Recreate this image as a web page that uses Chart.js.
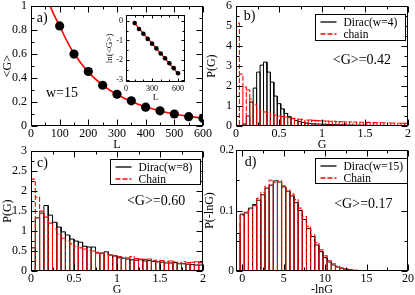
<!DOCTYPE html>
<html>
<head>
<meta charset="utf-8">
<script src="https://cdn.jsdelivr.net/npm/chart.js@4.4.1/dist/chart.umd.min.js"></script>
<style>
  html, body { margin: 0; padding: 0; background: #fff; }
  #fig { position: relative; width: 415px; height: 295px; overflow: hidden; }
  #fig canvas { position: absolute; }
</style>
</head>
<body>
<div id="fig">
  <canvas id="pa" width="213" height="157" style="left:0;top:-5px"></canvas>
  <canvas id="pb" width="214" height="157" style="left:204px;top:-5px"></canvas>
  <canvas id="pc" width="213" height="157" style="left:0;top:140px"></canvas>
  <canvas id="pd" width="215" height="157" style="left:203px;top:140px"></canvas>
  <canvas id="inset" width="90" height="96" style="left:103px;top:7px"></canvas>
</div>
<script>
const SERIF = "'Liberation Serif', 'DejaVu Serif', serif";

// a) <G> vs L, w=15
const aL = [100, 150, 200, 250, 300, 350, 400, 450, 500, 550, 600];
const aG = [0.835, 0.6, 0.455, 0.34, 0.265, 0.21, 0.157, 0.127, 0.1, 0.078, 0.064];
const aFitL = [60, 80, 100, 125, 150, 200, 250, 300, 350, 400, 450, 500, 550, 600];
const aFitG = [1.04, 0.93, 0.835, 0.71, 0.605, 0.45, 0.342, 0.263, 0.205, 0.16, 0.126, 0.1, 0.08, 0.065];
const aXTicks = [0, 100, 200, 300, 400, 500, 600];
const aYTicks = [0, 0.2, 0.4, 0.6, 0.8, 1];

// inset: ln<G> vs L
const insetLnG = [-0.12, -0.42, -0.66, -0.92, -1.16, -1.4, -1.66, -1.9, -2.15, -2.4, -2.66];
const insetFitL = [90, 610];
const insetFitLnG = [-0.08, -2.72];
const insetXTicks = [0, 300, 600];
const insetYTicks = [-3, -2, -1, 0];

// b) P(G), bins of 0.04
const bBinWidth = 0.04;
const bDirac = [0, 0.02, 0.1, 0.5, 1.2, 1.9, 2.7, 3.05, 3.2, 2.7, 2.2, 1.5, 1.12, 0.86, 0.63, 0.47, 0.37, 0.28, 0.22, 0.18,
  0.15, 0.13, 0.11, 0.1, 0.09, 0.09, 0.08, 0.07, 0.07, 0.06, 0.06, 0.05, 0.05, 0.05, 0.04, 0.04, 0.04, 0.04, 0.03, 0.03,
  0.03, 0.03, 0.03, 0.02, 0.02, 0.02, 0.02, 0.02, 0.02, 0.02];
const bChain = [5.15, 2.6, 1.95, 1.8, 1.35, 1.05, 0.82, 0.75, 0.7, 0.65, 0.6, 0.55, 0.5, 0.47, 0.45, 0.42, 0.38, 0.37, 0.34, 0.32,
  0.3, 0.3, 0.28, 0.27, 0.26, 0.25, 0.25, 0.24, 0.23, 0.22, 0.22, 0.21, 0.21, 0.2, 0.2, 0.19, 0.19, 0.18, 0.18, 0.17,
  0.17, 0.17, 0.16, 0.16, 0.15, 0.15, 0.15, 0.14, 0.14, 0.13];
const bXTicks = [0, 0.5, 1, 1.5, 2];
const bYTicks = [0, 1, 2, 3, 4, 5, 6];

// c) P(G), bins of 0.05
const cBinWidth = 0.05;
const cDirac = [0.58, 1.33, 1.45, 1.64, 1.4, 1.22, 1.1, 0.98, 0.9, 0.8, 0.75, 0.72, 0.62, 0.6, 0.6, 0.45, 0.45, 0.48, 0.4, 0.38,
  0.33, 0.32, 0.3, 0.28, 0.27, 0.28, 0.25, 0.26, 0.24, 0.23, 0.22, 0.2, 0.2, 0.21, 0.18, 0.18, 0.17, 0.16, 0.15, 0.15];
const cChain = [2.3, 1.85, 1.5, 1.35, 1.2, 1.05, 0.92, 0.82, 0.75, 0.68, 0.62, 0.58, 0.55, 0.52, 0.5, 0.47, 0.44, 0.43, 0.4, 0.38,
  0.36, 0.34, 0.33, 0.36, 0.31, 0.3, 0.29, 0.3, 0.27, 0.27, 0.26, 0.24, 0.25, 0.23, 0.22, 0.23, 0.21, 0.22, 0.23, 0.21];
const cXTicks = [0, 0.5, 1, 1.5, 2];
const cYTicks = [0, 0.5, 1, 1.5, 2, 2.5, 3];

// d) P(-lnG), bins of 0.5 starting at -0.75
const dBinStart = -0.75;
const dBinWidth = 0.5;
const dDirac = [0.062, 0.094, 0.096, 0.104, 0.11, 0.117, 0.126, 0.137, 0.142, 0.149, 0.147, 0.139, 0.132, 0.124, 0.113, 0.1,
  0.085, 0.07, 0.057, 0.043, 0.032, 0.022, 0.015, 0.01, 0.0065, 0.0045, 0.003, 0.002, 0.0012, 0.0008, 0.0005, 0.0003, 0.0002, 0.0001];
const dChain = [0.076, 0.092, 0.098, 0.101, 0.108, 0.12, 0.13, 0.14, 0.15, 0.146, 0.149, 0.141, 0.134, 0.127, 0.118, 0.104,
  0.09, 0.074, 0.06, 0.047, 0.035, 0.025, 0.017, 0.012, 0.008, 0.005, 0.0035, 0.0025, 0.0015, 0.001, 0.0006, 0.0004, 0.0002, 0.0001];
const dXTicks = [0, 5, 10, 15, 20];
const dYTicks = [0, 0.1, 0.2];

//histogram outline with a drop line at every bin edge
function steps(start, width, vals) {
  const pts = [];
  vals.forEach((v, i) => {
    const x0 = start + i * width, x1 = x0 + width;
    pts.push({ x: x0, y: 0 }, { x: x0, y: v }, { x: x1, y: v }, { x: x1, y: 0 });
  });
  return pts;
}

function xy(xs, ys) {
  return xs.map((x, i) => ({ x: x, y: ys[i] }));
}

//frame with inward major/minor ticks on all four sides
function marks(min, max, step, major) {
  const out = [];
  const first = Math.ceil(min / step - 1e-9);
  const last = Math.floor(max / step + 1e-9);
  for (let k = first; k <= last; k++) {
    const v = k * step;
    const r = v / major;
    out.push([v, Math.abs(r - Math.round(r)) < 1e-6]);
  }
  return out;
}

const framePlugin = {
  id: "frame",
  beforeDatasetsDraw(chart, args, o) {
    if (!o.fill) return;
    const a = chart.chartArea;
    chart.ctx.save();
    chart.ctx.fillStyle = "#fff";
    chart.ctx.fillRect(a.left, a.top, a.right - a.left, a.bottom - a.top);
    chart.ctx.restore();
  },
  afterDatasetsDraw(chart, args, o) {
    if (!o.xMinor) return;
    const { ctx, chartArea: a } = chart;
    const x = chart.scales.x, y = chart.scales.y;
    const L = Math.round(a.left) + 0.5, R = Math.round(a.right) - 0.5;
    const T = Math.round(a.top) + 0.5, B = Math.round(a.bottom) - 0.5;
    ctx.save();
    ctx.strokeStyle = "#000";
    ctx.lineWidth = 1;
    ctx.strokeRect(L, T, R - L, B - T);
    ctx.beginPath();
    marks(x.min, x.max, o.xMinor, o.xMajor).forEach(([v, big]) => {
      const p = Math.round(x.getPixelForValue(v)) + 0.5;
      const l = big ? o.major : o.minor;
      ctx.moveTo(p, B); ctx.lineTo(p, B - l);
      ctx.moveTo(p, T); ctx.lineTo(p, T + l);
    });
    marks(y.min, y.max, o.yMinor, o.yMajor).forEach(([v, big]) => {
      const p = Math.round(y.getPixelForValue(v)) + 0.5;
      const l = big ? o.major : o.minor;
      ctx.moveTo(L, p); ctx.lineTo(L + l, p);
      ctx.moveTo(R, p); ctx.lineTo(R - l, p);
    });
    ctx.stroke();
    ctx.restore();
  },
};

//panel labels and legend boxes
const decorPlugin = {
  id: "decor",
  afterDraw(chart, args, o) {
    const { ctx } = chart;
    const x = chart.scales.x, y = chart.scales.y;
    ctx.save();
    ctx.textAlign = "left";
    ctx.textBaseline = "middle";
    (o.notes || []).forEach((n) => {
      ctx.font = n.size + "px " + SERIF;
      ctx.fillStyle = "#000";
      ctx.fillText(n.text, x.getPixelForValue(n.x), y.getPixelForValue(n.y));
    });
    if (o.legend) {
      const lg = o.legend;
      const bx = Math.round(x.getPixelForValue(lg.x)) + 0.5;
      const by = Math.round(y.getPixelForValue(lg.y)) + 0.5;
      ctx.fillStyle = "#fff";
      ctx.fillRect(bx, by, lg.w, lg.h);
      ctx.strokeStyle = "#000";
      ctx.lineWidth = 1;
      ctx.strokeRect(bx, by, lg.w, lg.h);
      chart.data.datasets.forEach((ds, i) => {
        const ry = by + 7.5 + i * 12;
        ctx.strokeStyle = ds.borderColor;
        ctx.lineWidth = ds.borderWidth + 0.3;
        ctx.setLineDash(ds.borderDash || []);
        ctx.beginPath();
        ctx.moveTo(bx + 5, ry);
        ctx.lineTo(bx + 21, ry);
        ctx.stroke();
        ctx.setLineDash([]);
        ctx.fillStyle = "#000";
        ctx.font = "11.5px " + SERIF;
        ctx.fillText(ds.label, bx + 28, ry + 0.5);
      });
    }
    ctx.restore();
  },
};

Chart.register(framePlugin, decorPlugin);

function scale(o) {
  return {
    type: "linear",
    min: o.min,
    max: o.max,
    grid: { display: false, drawTicks: false },
    border: { display: false },
    afterBuildTicks: (s) => {
      s.ticks = o.ticks.map((v) => ({ value: v }));
    },
    afterFit: (s) => {
      if (o.vertical) s.width = o.size;
      else s.height = o.size;
    },
    ticks: {
      color: "#000",
      font: { family: SERIF, size: o.tickSize || 12 },
      padding: o.pad,
      maxRotation: 0,
      autoSkip: false,
      callback: (v) => String(v),
    },
    title: {
      display: true,
      text: o.title,
      color: "#000",
      font: { family: SERIF, size: o.titleSize || 12 },
      padding: o.vertical ? { top: o.titlePad === undefined ? 1 : o.titlePad, bottom: 0 } : 0,
    },
  };
}

function baseOptions(xs, ys, frame, decor, pad) {
  return {
    responsive: false,
    animation: false,
    events: [],
    layout: { padding: pad || { top: 10, right: 10, left: 0, bottom: 0 } },
    scales: { x: scale(xs), y: scale(ys) },
    plugins: { legend: { display: false }, tooltip: { enabled: false }, frame: frame, decor: decor || {} },
  };
}

function histChart(id, start, width, dirac, chain, names, xs, ys, frame, decor) {
  new Chart(document.getElementById(id), {
    type: "scatter",
    data: {
      datasets: [
        {
          label: names[0],
          data: steps(start, width, dirac),
          showLine: true,
          borderColor: "#000",
          borderWidth: 1,
          pointRadius: 0,
          order: 1,
        },
        {
          label: names[1],
          data: steps(start, width, chain),
          showLine: true,
          borderColor: "#ff0000",
          borderWidth: 1.1,
          borderDash: [5, 2],
          pointRadius: 0,
          order: 0,
        },
      ],
    },
    options: baseOptions(xs, ys, frame, decor),
  });
}

// panel a
new Chart(document.getElementById("pa"), {
  type: "scatter",
  data: {
    datasets: [
      {
        data: xy(aL, aG),
        pointRadius: 4.6,
        backgroundColor: "#000",
        borderWidth: 0,
        order: 0,
      },
      {
        data: xy(aFitL, aFitG),
        showLine: true,
        cubicInterpolationMode: "monotone",
        borderColor: "#ff0000",
        borderWidth: 1.6,
        pointRadius: 0,
        order: 1,
      },
    ],
  },
  options: baseOptions(
    { min: 0, max: 600, ticks: aXTicks, title: "L", size: 26, pad: 1 },
    { min: 0, max: 1, ticks: aYTicks, title: "<G>", size: 31, pad: 4, vertical: true },
    { xMajor: 100, xMinor: 50, yMajor: 0.2, yMinor: 0.1, major: 6, minor: 3 },
    {
      notes: [
        { text: "a)", x: 20, y: 0.9, size: 14 },
        { text: "w=15", x: 52, y: 0.272, size: 14 },
      ],
    }
  ),
});

// inset
new Chart(document.getElementById("inset"), {
  type: "scatter",
  data: {
    datasets: [
      {
        data: xy(aL, insetLnG),
        pointRadius: 2.3,
        backgroundColor: "#000",
        borderWidth: 0,
        order: 0,
      },
      {
        data: xy(insetFitL, insetFitLnG),
        showLine: true,
        borderColor: "#ff0000",
        borderWidth: 1.3,
        pointRadius: 0,
        order: 1,
      },
    ],
  },
  options: baseOptions(
    { min: 0, max: 680, ticks: insetXTicks, title: "L", size: 21, pad: 2, tickSize: 8, titleSize: 9 },
    { min: -3.1, max: 0.3, ticks: insetYTicks, title: "ln(<G>)", size: 23, pad: 3, tickSize: 8, titleSize: 9, vertical: true },
    { xMajor: 300, xMinor: 100, yMajor: 1, yMinor: 0.5, major: 3, minor: 2, fill: true },
    {},
    { top: 6, right: 8, left: 0, bottom: 0 }
  ),
});

// panel b
histChart(
  "pb", 0, bBinWidth, bDirac, bChain, ["Dirac(w=4)", "chain"],
  { min: 0, max: 2, ticks: bXTicks, title: "G", size: 26, pad: 1 },
  { min: 0, max: 6, ticks: bYTicks, title: "P(G)", size: 32, pad: 4, vertical: true },
  { xMajor: 0.5, xMinor: 0.25, yMajor: 1, yMinor: 0.5, major: 6, minor: 3 },
  {
    notes: [
      { text: "b)", x: 0.09, y: 5.5, size: 14 },
      { text: "<G>=0.42", x: 1.125, y: 3.27, size: 14 },
    ],
    legend: { x: 0.92, y: 5.6, w: 90, h: 26 },
  }
);

// panel c
histChart(
  "pc", 0, cBinWidth, cDirac, cChain, ["Dirac(w=8)", "Chain"],
  { min: 0, max: 2, ticks: cXTicks, title: "G", size: 26, pad: 1 },
  { min: 0, max: 3, ticks: cYTicks, title: "P(G)", size: 31, pad: 4, vertical: true },
  { xMajor: 0.5, xMinor: 0.25, yMajor: 0.5, yMinor: 0.25, major: 6, minor: 3 },
  {
    notes: [
      { text: "c)", x: 0.07, y: 2.7, size: 14 },
      { text: "<G>=0.60", x: 1.115, y: 1.74, size: 14 },
    ],
    legend: { x: 0.92, y: 2.8, w: 90, h: 25 },
  }
);

// panel d
histChart(
  "pd", dBinStart, dBinWidth, dDirac, dChain, ["Dirac(w=15)", "Chain"],
  { min: -0.75, max: 20, ticks: dXTicks, title: "-lnG", size: 26, pad: 1 },
  { min: 0, max: 0.2, ticks: dYTicks, title: "P(-lnG)", size: 33, pad: 2, vertical: true, titlePad: 0, tickSize: 11.5 },
  { xMajor: 5, xMinor: 2.5, yMajor: 0.1, yMinor: 0.05, major: 6, minor: 3 },
  {
    notes: [
      { text: "d)", x: 0.3, y: 0.18, size: 14 },
      { text: "<G>=0.17", x: 11.1, y: 0.111, size: 14 },
    ],
    legend: { x: 8.77, y: 0.187, w: 92, h: 25 },
  }
);
</script>
</body>
</html>
